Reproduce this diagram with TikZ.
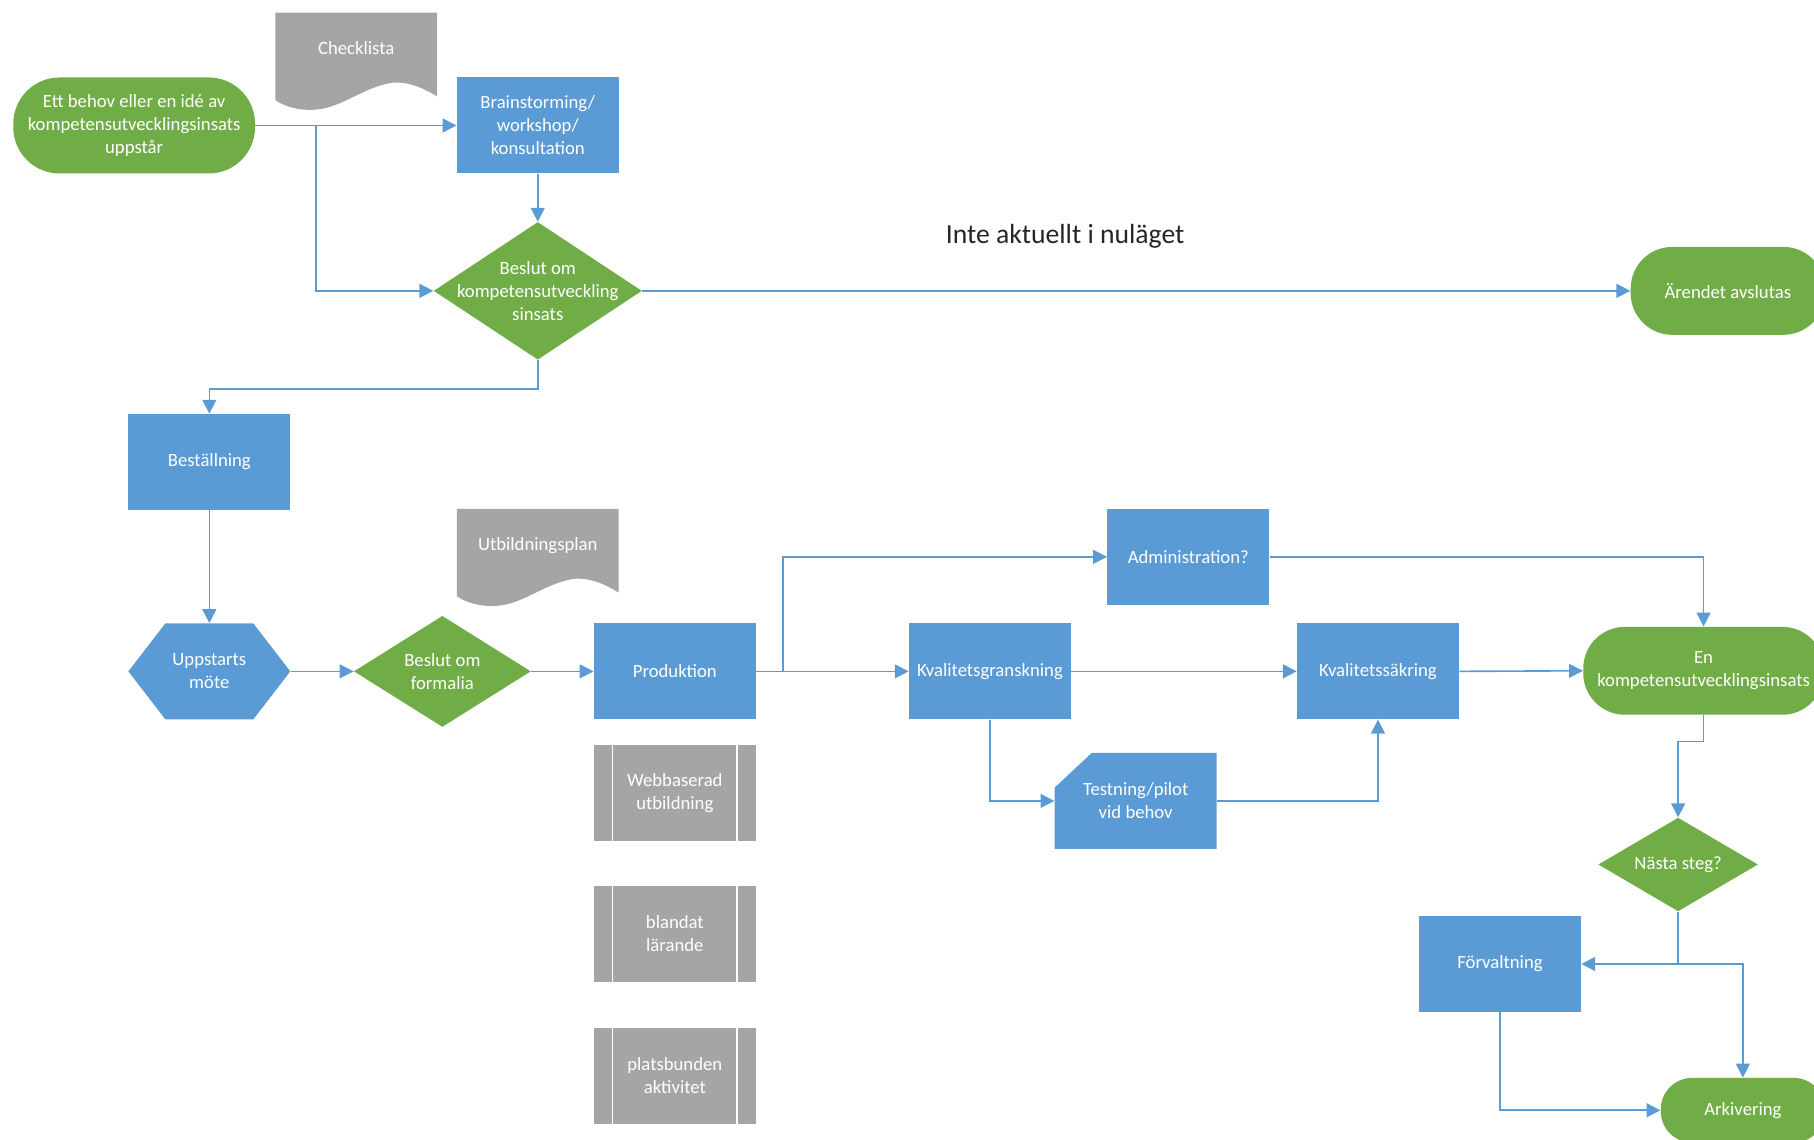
\documentclass[tikz,border=0pt]{standalone}
\usepackage{fontspec}
\setmainfont{Carlito}
\usetikzlibrary{positioning}
\usetikzlibrary{shapes.geometric}
\usetikzlibrary{arrows.meta}
\definecolor{boxblue}{HTML}{5B9BD5}
\definecolor{linkblue}{HTML}{5B9BD5}
\definecolor{termgreen}{HTML}{70AD47}
\definecolor{docgray}{HTML}{A5A5A5}
\begin{document}
\begin{tikzpicture}[x=0.025cm, y=-0.025cm,
	every node/.style={font=\fontsize{11.5}{14.2}\selectfont, text=white, align=center},
	process/.style={rectangle, fill=boxblue, minimum width=3.5cm, minimum height=2.075cm, inner sep=0pt},
	terminal/.style={rectangle, fill=termgreen, minimum height=1.9cm, rounded corners=0.9cm, inner sep=0pt},
	decision/.style={diamond, fill=termgreen, inner sep=0pt},
	hexa/.style={process, fill=none,
		path picture={
			\fill[boxblue] (path picture bounding box.west)--([xshift=0.8cm]path picture bounding box.north west)--([xshift=-0.8cm]path picture bounding box.north east)--(path picture bounding box.east)--([xshift=-0.8cm]path picture bounding box.south east)--([xshift=0.8cm]path picture bounding box.south west)--cycle;
		}},
	card/.style={process, fill=none,
		path picture={
			\fill[boxblue] (path picture bounding box.south west)--([yshift=-0.75cm]path picture bounding box.north west)--([xshift=0.8cm]path picture bounding box.north west)--(path picture bounding box.north east)--(path picture bounding box.south east)--cycle;
		}},
	predef/.style={rectangle, fill=docgray, minimum width=3.5cm, minimum height=2.075cm, inner sep=0pt,
		path picture={
			\draw[white, line width=1pt] ([xshift=0.4cm]path picture bounding box.north west)--([xshift=0.4cm]path picture bounding box.south west);
			\draw[white, line width=1pt] ([xshift=-0.4cm]path picture bounding box.north east)--([xshift=-0.4cm]path picture bounding box.south east);
		}},
	docshape/.style={fill=docgray},
	flow/.style={draw=linkblue, line width=1pt, -{Triangle[length=0.3cm, width=0.3cm]}}]
	\useasboundingbox (0, 0) rectangle (1568.5, 985);
	\fill[docshape, shift={(238, 11)}] (0, 0)--(140, 0)--(140, 72.5) .. controls (125, 63) and (110, 58) .. (96, 61.5) .. controls (70, 68) and (55, 84) .. (30, 84) .. controls (15, 84) and (5, 79) .. (0, 75.5)--cycle;
	\node (checklista) at (308, 42) {Checklista};
	\fill[docshape, shift={(395, 440)}] (0, 0)--(140, 0)--(140, 72.5) .. controls (125, 63) and (110, 58) .. (96, 61.5) .. controls (70, 68) and (55, 84) .. (30, 84) .. controls (15, 84) and (5, 79) .. (0, 75.5)--cycle;
	\node (utbplan) at (465, 472) {Utbildningsplan};
	\node[terminal, minimum width=5.225cm, minimum height=2.075cm, rounded corners=1cm] (start) at (116, 108.5) {Ett behov eller en idé av\\kompetensutvecklingsinsats\\uppstår};
	\node[process] (brain) at (465, 108.5) {Brainstorming/\\workshop/\\konsultation};
	\node[decision, minimum width=4.5cm, minimum height=2.975cm, label={center:Beslut om\\kompetensutveckling\\sinsats}] (dec1) at (465, 251.5) {};
	\node[font=\fontsize{17}{20}\selectfont, text=black!85] (inte) at (921, 204) {Inte aktuellt i nuläget};
	\node[terminal, minimum width=4.2cm] (avslutas) at (1494, 251.5) {Ärendet avslutas};
	\node[process] (best) at (181, 399.5) {Beställning};
	\node[hexa] (uppstart) at (181, 580.5) {Uppstarts\\möte};
	\node[decision, minimum width=3.825cm, minimum height=2.4cm, label={center:Beslut om\\formalia}] (formalia) at (382.5, 580.5) {};
	\node[process] (prod) at (583.5, 580.5) {Produktion};
	\node[predef] (webb) at (583.5, 685.5) {Webbaserad\\utbildning};
	\node[predef] (blandat) at (583.5, 807.5) {blandat\\lärande};
	\node[predef] (plats) at (583.5, 930) {platsbunden\\aktivitet};
	\node[process] (admin) at (1027.5, 481.5) {Administration?};
	\node[process] (granskn) at (856, 580.5) {Kvalitetsgranskning};
	\node[process] (sakring) at (1191.5, 580.5) {Kvalitetssäkring};
	\node[card] (test) at (982, 692.5) {Testning/pilot\\vid behov};
	\node[terminal, minimum width=5.2cm] (insats) at (1473, 580) {En\\kompetensutvecklingsinsats};
	\node[decision, minimum width=3.45cm, minimum height=2.025cm, label={center:Nästa steg?}] (nasta) at (1451, 747.5) {};
	\node[process] (forv) at (1297, 833.5) {Förvaltning};
	\node[terminal, minimum width=3.55cm, minimum height=1.4cm, rounded corners=0.68cm] (ark) at (1507, 960) {Arkivering};
	\coordinate (split1) at (273, 108.5);
	\coordinate (split2) at (677, 580.5);
	\coordinate (split3) at (1451, 833.5);
	\draw[flow] (start.east)--(brain.west);
	\draw[flow] (split1) |- (dec1.west);
	\draw[flow] (brain.south)--(dec1.north);
	\draw[flow] (dec1.east)--(avslutas.west);
	\draw[flow] (dec1.south)--++(0, 25) -| (best.north);
	\draw[flow] (best.south)--(uppstart.north);
	\draw[flow] (uppstart.east)--(formalia.west);
	\draw[flow] (formalia.east)--(prod.west);
	\draw[flow] (prod.east)--(granskn.west);
	\draw[flow] (split2) |- (admin.west);
	\draw[flow] (admin.east) -| (insats.north);
	\draw[flow] (granskn.east)--(sakring.west);
	\draw[flow] (granskn.south) |- (test.west);
	\draw[flow] (test.east) -| (sakring.south);
	\draw[flow] (sakring.east)--(insats.west);
	\draw[flow] (insats.south)--++(0, 23) -| (nasta.north);
	\draw[flow] (nasta.south) |- (forv.east);
	\draw[flow] (split3) -| (ark.north);
	\draw[flow] (forv.south) |- (ark.west);
\end{tikzpicture}
\end{document}
